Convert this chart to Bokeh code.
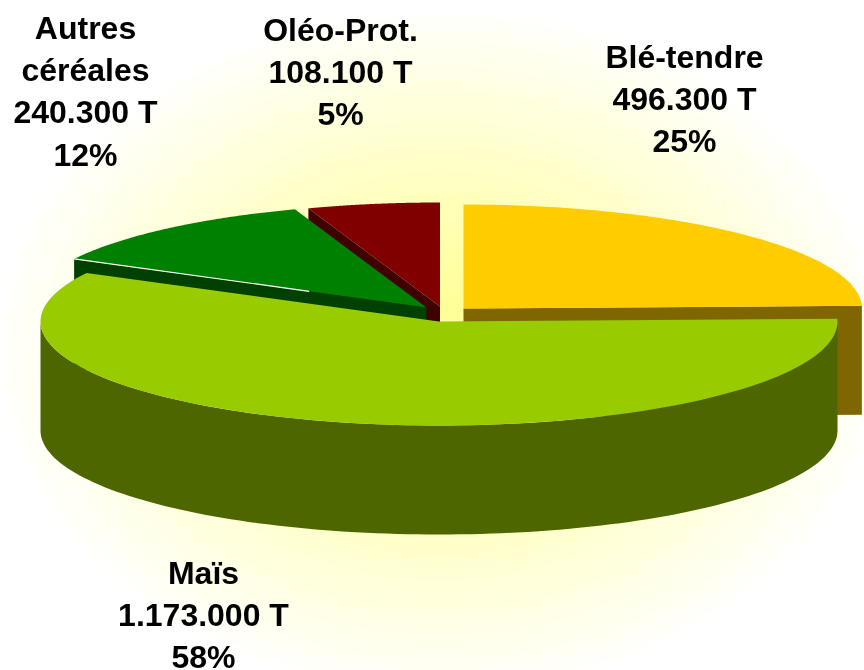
import math
from bokeh.plotting import figure
from bokeh.embed import file_html
from bokeh.resources import INLINE
from bokeh.core.properties import value

# --- data -----------------------------------------------------------------
categories = ["Blé-tendre", "Maïs", "Autres céréales", "Oléo-Prot."]
tonnages = [496300, 1173000, 240300, 108100]
tonnage_labels = ["496.300 T", "1.173.000 T", "240.300 T", "108.100 T"]
percent_labels = ["25%", "58%", "12%", "5%"]
top_colors = ["#FFCC00", "#99CC00", "#008000", "#800000"]
wall_colors = ["#806600", "#4D6600", "#004000", "#400000"]

# --- layout ---------------------------------------------------------------
W, H = 864, 670
RX, RY, DEPTH = 398.5, 104, 109
CENTERS = {"Blé-tendre": (463, 308), "Maïs": (438.5, 321),
           "Autres céréales": (426, 307), "Oléo-Prot.": (439.5, 306)}
LABEL_POS = {"Blé-tendre": (684, 56.5), "Maïs": (203, 572),
             "Autres céréales": (85, 27.5), "Oléo-Prot.": (340, 29.5)}
LINE_STEP = 42.2
FONT_PX = 32

p = figure(width=W, height=H, x_range=(0, W), y_range=(H, 0),
           output_backend="svg", toolbar_location=None,
           min_border=0, outline_line_color=None,
           background_fill_color="white", border_fill_color="white",
           margin=(0, 0, 0, 0),
           styles={"position": "fixed", "left": "0px", "top": "0px"})
p.axis.visible = False
p.grid.visible = False

# soft radial glow behind the pie
rings = 70
for i in range(rings):
    t = 1 - i / rings
    s = max(0.0, (t - 0.15) / 0.85)
    blue = int(round(0x99 + (0xFF - 0x99) * s))
    p.ellipse(x=[440], y=[350], width=[2 * 450 * t], height=[2 * 350 * t],
              fill_color="#FFFF%02X" % blue, line_color=None)


def arc(cx, cy, a0, a1, dy=0, n=120):
    pts = [math.radians(a0 + (a1 - a0) * k / n) for k in range(n + 1)]
    return ([cx + RX * math.cos(a) for a in pts],
            [cy + dy - RY * math.sin(a) for a in pts])


total = sum(tonnages)
angles = {}
start = 90.0
for name, val in zip(categories, tonnages):
    end = start - 360.0 * val / total
    angles[name] = (start, end)
    start = end

colors = dict(zip(categories, zip(top_colors, wall_colors)))


def cut_wall(name, angle):
    cx, cy = CENTERS[name]
    a = math.radians(angle)
    ex, ey = cx + RX * math.cos(a), cy - RY * math.sin(a)
    p.patch([cx, ex, ex, cx], [cy, ey, ey + DEPTH, cy + DEPTH],
            fill_color=colors[name][1], line_color=None)


def top(name):
    cx, cy = CENTERS[name]
    a0, a1 = angles[name]
    xs, ys = arc(cx, cy, a0, a1)
    p.patch([cx] + xs, [cy] + ys, fill_color=colors[name][0], line_color=None)


# back to front
cut_wall("Blé-tendre", angles["Blé-tendre"][1])
top("Blé-tendre")
cut_wall("Oléo-Prot.", angles["Oléo-Prot."][0])
top("Oléo-Prot.")
cut_wall("Autres céréales", angles["Autres céréales"][0])
top("Autres céréales")

# thin light rim along the green slice
cx, cy = CENTERS["Autres céréales"]
a = math.radians(angles["Autres céréales"][0])
ex, ey = cx + RX * math.cos(a), cy - RY * math.sin(a)
p.line([ex, ex + 0.667 * (cx - ex)], [ey, ey + 0.667 * (cy - ey)],
       line_color="white", line_width=1.2)

# maize: curved outer wall, then the top surface
cx, cy = CENTERS["Maïs"]
xs_top, ys_top = arc(cx, cy, 0, -180)
xs_bot, ys_bot = arc(cx, cy, -180, 0, dy=DEPTH)
p.patch(xs_top + xs_bot, ys_top + ys_bot, fill_color=colors["Maïs"][1], line_color=None)
top("Maïs")

# labels
lines = {"Autres céréales": ["Autres", "céréales"]}
for name, ton, pct in zip(categories, tonnage_labels, percent_labels):
    x0, y0 = LABEL_POS[name]
    rows = lines.get(name, [name]) + [ton, pct]
    p.text(x=[x0] * len(rows), y=[y0 + LINE_STEP * i for i in range(len(rows))], text=rows,
           text_font=value("Liberation Sans"), text_font_style="bold",
           text_font_size=f"{FONT_PX}px", text_color="black",
           text_align="center", text_baseline="middle")

open("out.html", "w").write(file_html(p, INLINE))
